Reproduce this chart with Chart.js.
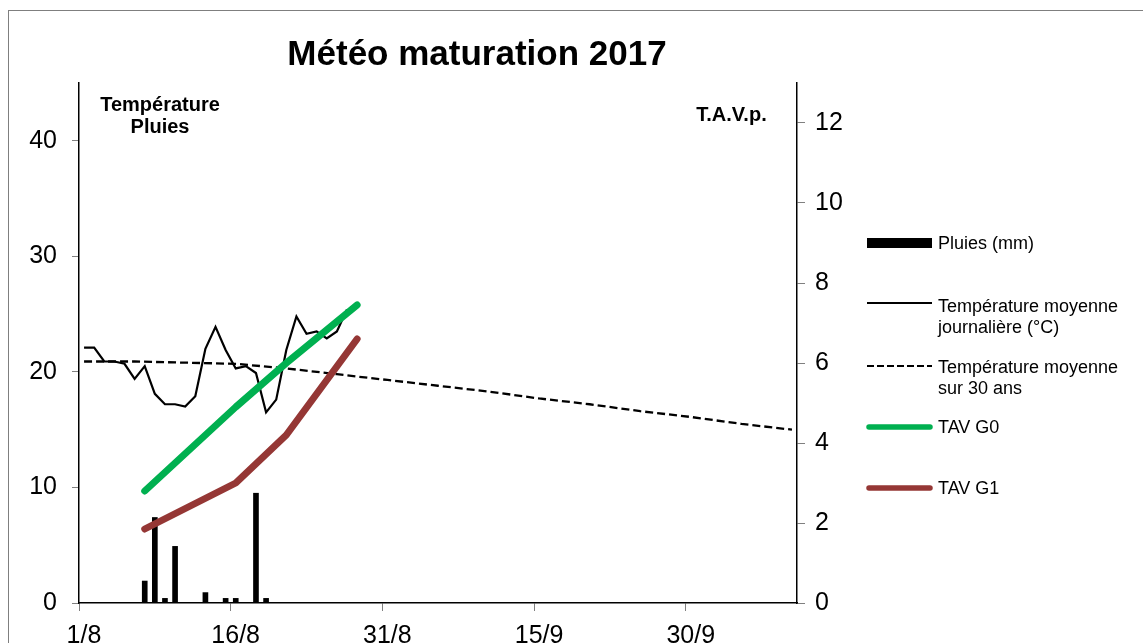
<!DOCTYPE html>
<html>
<head>
<meta charset="utf-8">
<title>Météo maturation 2017</title>
<script src="https://cdn.jsdelivr.net/npm/chart.js@4/dist/chart.umd.min.js"></script>
<style>
  html, body { margin: 0; padding: 0; background: #fff; overflow: hidden; }
  #wrap { position: relative; width: 1143px; height: 643px; }
  #frame { position: absolute; left: 8px; top: 10px; width: 1200px; height: 700px;
           border-top: 1px solid #7f7f7f; border-left: 1px solid #7f7f7f; }
  #chart { position: absolute; left: 0; top: 0; }
</style>
</head>
<body>
<div id="wrap">
  <div id="frame"></div>
  <canvas id="chart" width="1143" height="643"></canvas>
</div>
<script>
// Days counted from 1/8 (day 0 = 1 August 2017)
const chartTitle = "Météo maturation 2017"

// Daily mean temperature (°C), 1/8 .. 27/8
const tempMean = [22.1, 22.1, 20.9, 20.9, 20.7, 19.4, 20.5, 18.1, 17.2, 17.2, 17.0, 17.9, 22.0, 23.9,
  21.9, 20.3, 20.5, 19.9, 16.5, 17.6, 21.9, 24.8, 23.3, 23.5, 22.9, 23.5, 25.4]

// Daily rain (mm), 1/8 .. 27/8
const rain = [0, 0, 0, 0, 0, 0, 1.9, 7.4, 0.4, 4.9, 0, 0, 0.9, 0, 0.4, 0.4, 0, 9.5, 0.4, 0, 0, 0, 0, 0, 0, 0, 0]

// 30-year mean temperature (°C)
const normalDays = [0, 5, 10, 15, 20, 25, 30, 35, 40, 45, 50, 55, 60, 65, 70]
const normalTemp = [20.9, 20.9, 20.8, 20.7, 20.3, 19.8, 19.3, 18.8, 18.3, 17.7, 17.2, 16.6, 16.1, 15.5, 15.0]

// Probable alcohol (T.A.V.p.)
const tavDays = [6, 15, 20, 27]
const tavG0 = [2.8, 4.9, 6.0, 7.45]
const tavG1 = [1.85, 3.0, 4.2, 6.6]

// Axis ticks
const xTickDays = [0, 15, 30, 45, 60]
const xTickLabels = ["1/8", "16/8", "31/8", "15/9", "30/9"]
const leftTicks = [0, 10, 20, 30, 40]
const rightTicks = [0, 2, 4, 6, 8, 10, 12]

const FONT = '"Liberation Sans", Arial, sans-serif'
Chart.defaults.font.family = FONT

// each value is plotted in the middle of its day
const mid = (d) => d + 0.5
const daily = (arr) => arr.map((v, i) => ({ x: mid(i), y: v }))
const byDay = (days, arr) => days.map((d, i) => ({ x: mid(d), y: arr[i] }))

const legendRows = [
  { kind: "bar", lines: ["Pluies (mm)"], y: 243, base: 249 },
  { kind: "temp", lines: ["Température moyenne", "journalière (°C)"], y: 303, base: 311.5 },
  { kind: "normal", lines: ["Température moyenne", "sur 30 ans"], y: 366, base: 372.5 },
  { kind: "g0", lines: ["TAV G0"], y: 427, base: 433 },
  { kind: "g1", lines: ["TAV G1"], y: 488, base: 494 },
]

const decorations = {
  id: "decorations",
  afterDraw(chart) {
    const ctx = chart.ctx
    const ds = chart.data.datasets
    ctx.save()
    ctx.fillStyle = "#000"
    ctx.textBaseline = "alphabetic"
    ctx.textAlign = "center"
    ctx.font = "bold 35px " + FONT
    ctx.fillText(chartTitle, 477, 65)
    ctx.font = "bold 20px " + FONT
    ctx.fillText("Température", 160, 110.5)
    ctx.fillText("Pluies", 160, 133)
    ctx.fillText("T.A.V.p.", 731.5, 120.5)

    // legend
    ctx.textAlign = "left"
    ctx.font = "18px " + FONT
    legendRows.forEach((row) => {
      const x0 = 867, x1 = 932
      ctx.save()
      ctx.lineCap = "butt"
      if (row.kind === "bar") {
        ctx.fillStyle = ds[4].backgroundColor
        ctx.fillRect(x0, row.y - 5, x1 - x0, 10)
      } else {
        let d = row.kind === "temp" ? ds[3] : row.kind === "normal" ? ds[2] : row.kind === "g0" ? ds[1] : ds[0]
        ctx.strokeStyle = d.borderColor
        ctx.lineWidth = row.kind === "g0" || row.kind === "g1" ? 5.5 : 2
        if (row.kind === "g0" || row.kind === "g1") ctx.lineCap = "round"
        if (row.kind === "normal") ctx.setLineDash([7, 3])
        ctx.beginPath()
        ctx.moveTo(x0 + (ctx.lineCap === "round" ? 2 : 0), row.y)
        ctx.lineTo(x1 - (ctx.lineCap === "round" ? 2 : 0), row.y)
        ctx.stroke()
      }
      ctx.restore()
      row.lines.forEach((t, i) => ctx.fillText(t, 938, row.base + i * 21))
    })
    ctx.restore()
  },
}

new Chart(document.getElementById("chart"), {
  type: "line",
  data: {
    datasets: [
      {
        label: "TAV G1",
        data: byDay(tavDays, tavG1),
        yAxisID: "y1",
        borderColor: "#953735",
        borderWidth: 7,
        borderCapStyle: "round",
        borderJoinStyle: "round",
        pointRadius: 0,
        tension: 0,
        order: 0,
      },
      {
        label: "TAV G0",
        data: byDay(tavDays, tavG0),
        yAxisID: "y1",
        borderColor: "#00B050",
        borderWidth: 7,
        borderCapStyle: "round",
        borderJoinStyle: "round",
        pointRadius: 0,
        tension: 0,
        order: 1,
      },
      {
        label: "Température moyenne sur 30 ans",
        data: byDay(normalDays, normalTemp),
        yAxisID: "y",
        borderColor: "#000",
        borderWidth: 2.3,
        borderDash: [8, 4],
        pointRadius: 0,
        tension: 0,
        order: 2,
      },
      {
        label: "Température moyenne journalière (°C)",
        data: daily(tempMean),
        yAxisID: "y",
        borderColor: "#000",
        borderWidth: 2.2,
        pointRadius: 0,
        tension: 0,
        order: 3,
      },
      {
        type: "bar",
        label: "Pluies (mm)",
        data: daily(rain),
        yAxisID: "y",
        backgroundColor: "#000",
        borderWidth: 0,
        barThickness: 5,
        order: 4,
      },
    ],
  },
  options: {
    responsive: false,
    animation: false,
    layout: { padding: { top: 83, right: 286, bottom: 0, left: 0 } },
    plugins: { legend: { display: false }, tooltip: { enabled: false }, title: { display: false } },
    scales: {
      x: {
        type: "linear",
        min: 0,
        max: 71,
        offset: false,
        afterBuildTicks: (s) => { s.ticks = xTickDays.map((v) => ({ value: v })) },
        afterFit: (s) => { s.height = 40 },
        ticks: {
          callback: (v, i) => xTickLabels[i],
          color: "#000",
          font: { size: 25 },
          padding: 10,
          labelOffset: 5,
          maxRotation: 0,
          autoSkip: false,
        },
        grid: { drawOnChartArea: false, tickLength: 8, color: "#808080", offset: false },
        border: { color: "#000", width: 1.5 },
      },
      y: {
        position: "left",
        min: 0,
        max: 45,
        afterBuildTicks: (s) => { s.ticks = leftTicks.map((v) => ({ value: v })) },
        afterFit: (s) => { s.width = 79 },
        ticks: { color: "#000", font: { size: 25 }, padding: 15 },
        grid: { drawOnChartArea: false, tickLength: 7, color: "#808080" },
        border: { color: "#000", width: 1.5 },
      },
      y1: {
        position: "right",
        min: 0,
        max: 13,
        afterBuildTicks: (s) => { s.ticks = rightTicks.map((v) => ({ value: v })) },
        afterFit: (s) => { s.width = 60 },
        ticks: { color: "#000", font: { size: 25 }, padding: 10 },
        grid: { drawOnChartArea: false, tickLength: 8, color: "#808080" },
        border: { color: "#000", width: 1.5 },
      },
    },
  },
  plugins: [decorations],
})
</script>
</body>
</html>
